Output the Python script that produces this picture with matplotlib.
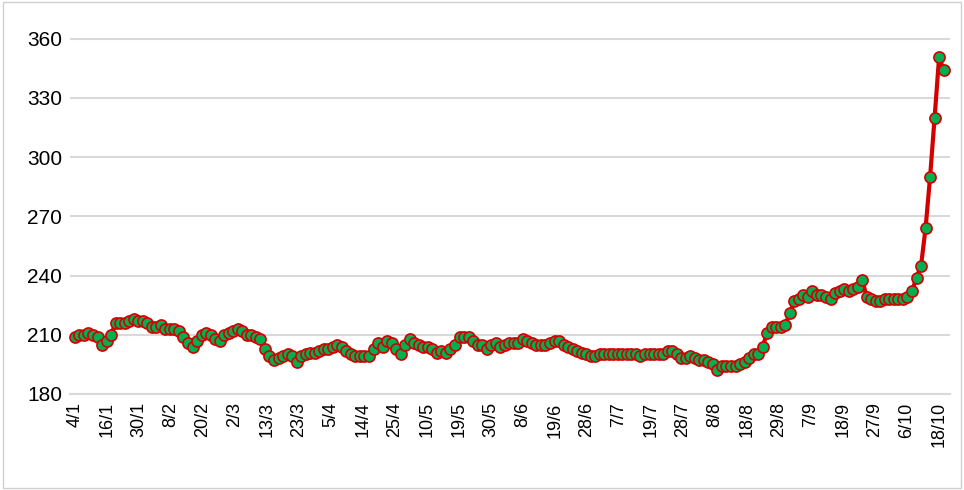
import matplotlib
matplotlib.use("Agg")
import matplotlib.pyplot as plt
import numpy as np
from matplotlib.patches import Rectangle

values = [209,210,210,211,210,209,205,207,210,
          216,216,216,217,218,217,217,216,214,
          214,215,213,213,213,212,
          209,206,204,207,210,211,210,208,
          207,210,211,212,213,212,
          210,210,209,208,203,199,197,
          198,199,200,199,196,199,200,201,
          201,202,203,203,204,205,204,
          202,200,199,199,199,199,203,
          206,204,207,206,203,200,205,208,
          206,205,204,204,203,201,202,201,203,
          205,209,209,209,207,205,
          205,203,205,206,204,205,206,
          206,206,208,207,206,205,
          205,205,206,207,207,205,
          204,203,202,201,200,199,199,
          200,200,200,200,200,200,
          200,200,200,199,200,200,200,
          200,200,202,202,200,198,
          198,199,198,197,197,196,195,192,
          194,194,194,194,195,196,198,
          200,200,204,211,214,214,214,215,221,
          227,228,230,229,232,230,
          230,229,228,231,232,233,
          232,233,234,238,229,228,227,
          227,228,228,228,228,228,229,
          232,239,245,264,290,320,351,344]
tick_labels = ["4/1","16/1","30/1","8/2","20/2","2/3","13/3","23/3","5/4","14/4",
               "25/4","10/5","19/5","30/5","8/6","19/6","28/6","7/7","19/7","28/7",
               "8/8","18/8","29/8","7/9","18/9","27/9","6/10","18/10"]
y_ticks = [180,210,240,270,300,330,360]

n = len(values)
x = np.arange(n)
tick_pos = np.linspace(0, n - 2, len(tick_labels))

fig = plt.figure(figsize=(9.64, 4.90), dpi=100)
fig.patches.append(Rectangle((0.003, 0.005), 0.994, 0.99, transform=fig.transFigure,
                             fill=False, edgecolor="#d0d0d0", linewidth=1))
ax = fig.add_axes([0.073, 0.196, 0.912, 0.745])
ax.plot(x, values, color="#d40000", linewidth=3, marker="o", markersize=8,
        markerfacecolor="#00b050", markeredgecolor="#d40000", markeredgewidth=1.2,
        clip_on=False)
ax.set_ylim(180, 365)
ax.set_xlim(-1, n + 0.3)
ax.set_yticks(y_ticks)
ax.set_xticks(tick_pos)
ax.set_xticklabels(tick_labels, rotation=90, fontsize=13, family="Liberation Sans")
for lab in ax.get_yticklabels():
    lab.set_fontsize(15)
    lab.set_family("Liberation Sans")
ax.grid(axis="y", color="#d9d9d9", linewidth=1.5)
ax.set_axisbelow(True)
for s in ["top", "right", "left"]:
    ax.spines[s].set_visible(False)
ax.spines["bottom"].set_color("#d9d9d9")
ax.spines["bottom"].set_linewidth(1.5)
ax.tick_params(axis="both", length=0, pad=6, colors="#000000")
fig.savefig("out.png", dpi=100)
